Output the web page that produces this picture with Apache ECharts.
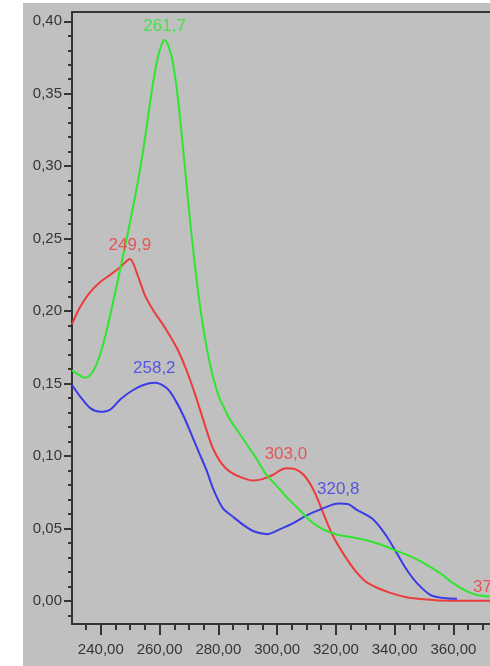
<!DOCTYPE html>
<html>
<head>
<meta charset="utf-8">
<script src="https://cdn.jsdelivr.net/npm/echarts@6/dist/echarts.min.js"></script>
<style>
  html, body { margin: 0; padding: 0; background: #fff; }
  #wrap { position: relative; width: 490px; height: 666px; overflow: hidden; background: #fff; }
  #panel { position: absolute; left: 23px; top: 3px; right: 0; bottom: 0; background: #c0c0c0; }
  #chart { position: absolute; left: 0; top: 0; width: 490px; height: 666px; }
</style>
</head>
<body>
<div id="wrap"><div id="panel"></div><div id="chart"></div></div>
<script>
// Absorbance spectra (wavelength nm, absorbance)
const greenSpectrum = [
  [230.2, 0.159], [232.5, 0.156], [234.6, 0.154], [236.5, 0.156], [238.5, 0.163],
  [240.5, 0.175], [242.5, 0.191], [244.5, 0.209], [246.5, 0.228], [248.5, 0.247],
  [250.5, 0.267], [252.5, 0.288], [254.5, 0.312], [256.5, 0.340], [258.5, 0.366],
  [260.2, 0.381], [261.7, 0.387], [263, 0.383], [264.5, 0.372], [266.4, 0.344],
  [268, 0.312], [270, 0.270], [272, 0.232], [274, 0.200], [276, 0.175],
  [278, 0.156], [280, 0.142], [282, 0.133], [284, 0.125], [287, 0.116],
  [290, 0.107], [293, 0.098], [296, 0.088], [300, 0.079], [304, 0.070],
  [308, 0.062], [312, 0.054], [316, 0.049], [320, 0.046], [325, 0.044],
  [330, 0.042], [335, 0.039], [340, 0.035], [345, 0.031], [349, 0.027],
  [355.5, 0.019], [360, 0.012], [364.6, 0.0065], [368, 0.004], [372, 0.003], [375, 0.0025]
];
const redSpectrum = [
  [230.2, 0.191], [233, 0.203], [236.4, 0.213], [239.8, 0.220], [243.2, 0.225],
  [246.5, 0.230], [249.9, 0.236], [252.5, 0.225], [255, 0.211], [258, 0.200],
  [262, 0.188], [266, 0.174], [269, 0.160], [272, 0.143], [275, 0.124],
  [278, 0.106], [281, 0.095], [284, 0.089], [288, 0.085], [292, 0.083],
  [295, 0.084], [298.7, 0.087], [301, 0.090], [303, 0.0915], [306, 0.091],
  [309, 0.087], [312.4, 0.0765], [315.8, 0.060], [319.2, 0.044], [323, 0.031],
  [326.5, 0.021], [330, 0.0135], [334, 0.0090], [338.5, 0.0055], [344, 0.0025],
  [349.8, 0.001], [355, 0.0003], [361, 0.0], [368, 0.0], [373.9, 0.0], [376, 0.0]
];
const blueSpectrum = [
  [230.2, 0.149], [233, 0.141], [236.4, 0.133], [239.8, 0.1305], [243.2, 0.132],
  [246.6, 0.139], [251, 0.1455], [254.5, 0.149], [258.2, 0.1505], [262.5, 0.1467],
  [265.5, 0.138], [268.5, 0.126], [271, 0.114], [273.5, 0.102], [276, 0.090],
  [278.5, 0.076], [281.5, 0.064], [285, 0.058], [288.5, 0.0524], [292, 0.048],
  [296.5, 0.046], [301, 0.0495], [305.5, 0.0536], [310.1, 0.059], [315.8, 0.064],
  [320.8, 0.0672], [324, 0.0668], [327.1, 0.0628], [332.8, 0.056], [337.3, 0.0444],
  [340.7, 0.033], [344.1, 0.0214], [347.6, 0.0122], [352.1, 0.0041], [356.6, 0.0019],
  [361.2, 0.0014]
];

// Labelled maxima
const greenPeaks = [[261.7, 0.387]];
const redPeaks = [[249.9, 0.236], [303.0, 0.0915], [373.9, 0.0]];
const bluePeaks = [[258.2, 0.1505], [320.8, 0.0672]];

// Axis ticks
const xLabelValues = [240, 260, 280, 300, 320, 340, 360];
const xMajorTicks = [240, 260, 280, 300, 320, 340, 360, 380, 400];
const xMinorTicks = [];
for (let v = 235; v <= 400; v += 5) xMinorTicks.push(v);
const yMajorTicks = [0, 0.05, 0.10, 0.15, 0.20, 0.25, 0.30, 0.35, 0.40];
const yMinorTicks = [];
for (let i = -1; i <= 40; i++) yMinorTicks.push(+(i * 0.01).toFixed(2));

const xMin = 230.2, xMax = 400, yMin = -0.016, yMax = 0.4064;
const axisColor = '#353535';
const fontFamily = '"Liberation Sans", Arial, sans-serif';
const comma = (v, d) => v.toFixed(d).replace('.', ',');

const COLORS = { green: '#2fe52f', red: '#ec3b3b', blue: '#3b3be6' };

function spectrum(data, color) {
  return {
    type: 'line', data: data, showSymbol: false, smooth: 0.3,
    lineStyle: { color: color, width: 2 }, itemStyle: { color: color },
    silent: true, z: 3
  };
}
function peaks(data, color) {
  return {
    type: 'scatter', data: data, symbol: 'circle', symbolSize: 1,
    itemStyle: { color: 'rgba(0,0,0,0)' }, silent: true, z: 5,
    label: {
      show: true, position: 'top', distance: 5, color: color,
      fontSize: 17, fontFamily: fontFamily,
      formatter: p => comma(p.value[0], 1)
    }
  };
}
function valueAxis(min, max, position, tickValues, tickLength, labelValues, labelMargin) {
  return {
    type: 'value', min: min, max: max, position: position,
    splitLine: { show: false },
    axisLine: { show: false, onZero: false },
    axisTick: { show: true, customValues: tickValues, length: tickLength, lineStyle: { color: axisColor, width: 2 } },
    axisLabel: labelValues ? {
      customValues: labelValues, formatter: v => comma(v, 2),
      color: axisColor, fontSize: 15, fontFamily: fontFamily, margin: labelMargin
    } : { show: false }
  };
}

const chart = echarts.init(document.getElementById('chart'), null, { renderer: 'canvas' });
chart.setOption({
  animation: false,
  backgroundColor: 'transparent',
  grid: {
    left: 72, top: 12, width: 499, height: 612,
    show: true, borderColor: axisColor, borderWidth: 2,
    backgroundColor: 'transparent', containLabel: false, outerBoundsMode: 'none'
  },
  xAxis: [
    valueAxis(xMin, xMax, 'bottom', xMajorTicks, 11, xLabelValues, 18),
    valueAxis(xMin, xMax, 'bottom', xMinorTicks, 6, null, 0)
  ],
  yAxis: [
    valueAxis(yMin, yMax, 'left', yMajorTicks, 8, yMajorTicks, 10),
    valueAxis(yMin, yMax, 'left', yMinorTicks, 4, null, 0)
  ],
  series: [
    spectrum(redSpectrum, COLORS.red),
    spectrum(blueSpectrum, COLORS.blue),
    spectrum(greenSpectrum, COLORS.green),
    peaks(greenPeaks, COLORS.green),
    peaks(redPeaks, COLORS.red),
    peaks(bluePeaks, COLORS.blue)
  ]
});
</script>
</body>
</html>
